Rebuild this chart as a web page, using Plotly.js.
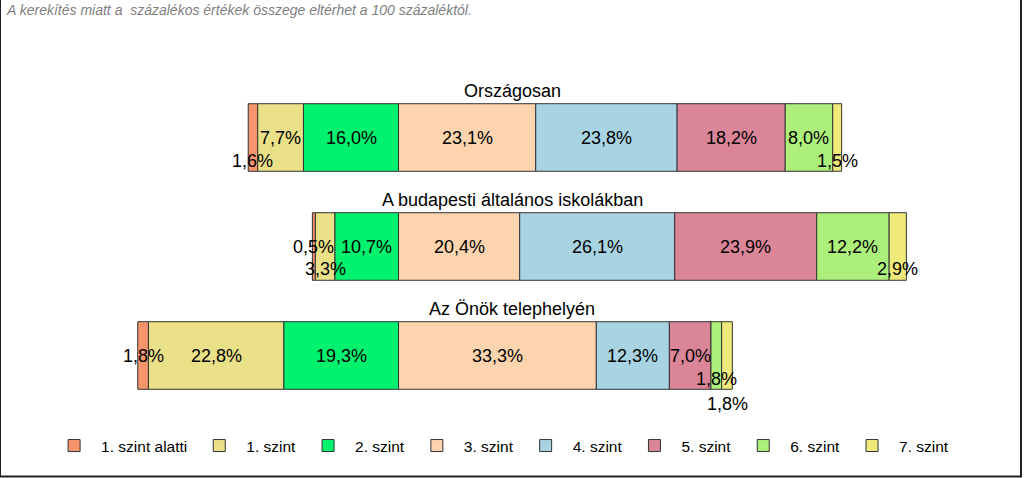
<!DOCTYPE html>
<html>
  <head>
    <meta charset="utf-8" />
    <title>Szintek megoszlása</title>
    <script src="https://cdn.plot.ly/plotly-3.0.1.min.js"></script>
    <style>
      body { margin: 0; background: #fff; }
      #chart { width: 1024px; height: 478px; }
    </style>
  </head>
  <body>
    <div id="chart"></div>
    <script>
      var groups = ['Országosan', 'A budapesti általános iskolákban', 'Az Önök telephelyén'];
      var levels = ['1. szint alatti', '1. szint', '2. szint', '3. szint', '4. szint', '5. szint', '6. szint', '7. szint'];
      var colors = ['#F6946C', '#EAE087', '#00F26E', '#FDD4AE', '#A8D3E3', '#DA8598', '#ADEF7B', '#EFEA7A'];

      var below1 = [1.6, 0.5, 1.8];
      var level1 = [7.7, 3.3, 22.8];
      var level2 = [16.0, 10.7, 19.3];
      var level3 = [23.1, 20.4, 33.3];
      var level4 = [23.8, 26.1, 12.3];
      var level5 = [18.2, 23.9, 7.0];
      var level6 = [8.0, 12.2, 1.8];
      var level7 = [1.5, 2.9, 1.8];
      var series = [below1, level1, level2, level3, level4, level5, level6, level7];

      // how far (px) some crowded labels are pushed down, per group and level
      var labelDrop = [
        [23, 0, 0, 0, 0, 0, 0, 23],
        [0, 22, 0, 0, 0, 0, 0, 22],
        [0, 0, 0, 0, 0, 0, 23, 48]
      ];

      var font = '"Liberation Sans", Arial, sans-serif';

      function fmt(v) {
        return v.toFixed(1).replace('.', ',') + '%';
      }

      // the bars diverge from the 2./3. szint boundary
      function baseOf(i, g) {
        var s = 0, k;
        if (i < 3) {
          for (k = i; k < 3; k++) s -= series[k][g];
        } else {
          for (k = 3; k < i; k++) s += series[k][g];
        }
        return s;
      }

      var traces = [];
      var annotations = [];
      var i, g;
      for (i = 0; i < levels.length; i++) {
        var bases = [];
        for (g = 0; g < groups.length; g++) {
          bases.push(baseOf(i, g));
          annotations.push({
            x: bases[g] + series[i][g] / 2,
            y: groups[g],
            xref: 'x',
            yref: 'y',
            text: fmt(series[i][g]),
            showarrow: false,
            yshift: -labelDrop[g][i],
            font: {family: font, size: 18, color: '#000'}
          });
        }
        traces.push({
          type: 'bar',
          orientation: 'h',
          name: levels[i],
          y: groups,
          x: series[i],
          base: bases,
          marker: {color: colors[i], line: {color: '#333', width: 1}},
          hoverinfo: 'skip'
        });
      }

      for (g = 0; g < groups.length; g++) {
        annotations.push({
          x: 0.5,
          xref: 'paper',
          y: groups[g],
          yref: 'y',
          yshift: 47,
          text: groups[g],
          showarrow: false,
          font: {family: font, size: 18, color: '#000'}
        });
      }

      annotations.push({
        x: 4 / 1024,
        xref: 'paper',
        xanchor: 'left',
        y: 1.223,
        yref: 'paper',
        yanchor: 'middle',
        text: '<i>A kerekítés miatt a &nbsp;százalékos értékek összege eltérhet a 100 százaléktól.</i>',
        showarrow: false,
        font: {family: font, size: 14, color: '#7f7f7f'}
      });

      var layout = {
        width: 1024,
        height: 478,
        margin: {l: 0, r: 0, t: 83, b: 68},
        paper_bgcolor: '#fff',
        plot_bgcolor: '#fff',
        barmode: 'overlay',
        bargap: 0.38,
        font: {family: font, size: 15, color: '#000'},
        xaxis: {range: [-67.09, 105.3], visible: false, fixedrange: true},
        yaxis: {type: 'category', range: [2.5, -0.5], visible: false, fixedrange: true},
        showlegend: true,
        legend: {
          orientation: 'h',
          x: 0.046,
          xanchor: 'left',
          y: -0.11,
          yanchor: 'middle',
          traceorder: 'normal',
          itemwidth: 44,
          font: {family: font, size: 15.5, color: '#000'}
        },
        annotations: annotations,
        shapes: [
          {type: 'line', xref: 'paper', yref: 'paper', x0: 0.5 / 1024, x1: 0.5 / 1024, y0: 1.254, y1: -0.205, line: {color: '#222', width: 1}},
          {type: 'line', xref: 'paper', yref: 'paper', x0: 1021 / 1024, x1: 1021 / 1024, y0: 1.254, y1: -0.205, line: {color: '#222', width: 2}},
          {type: 'line', xref: 'paper', yref: 'paper', x0: 0, x1: 1022 / 1024, y0: -0.2035, y1: -0.2035, line: {color: '#222', width: 2}}
        ]
      };

      Plotly.newPlot('chart', traces, layout, {displayModeBar: false, staticPlot: true});
    </script>
  </body>
</html>
